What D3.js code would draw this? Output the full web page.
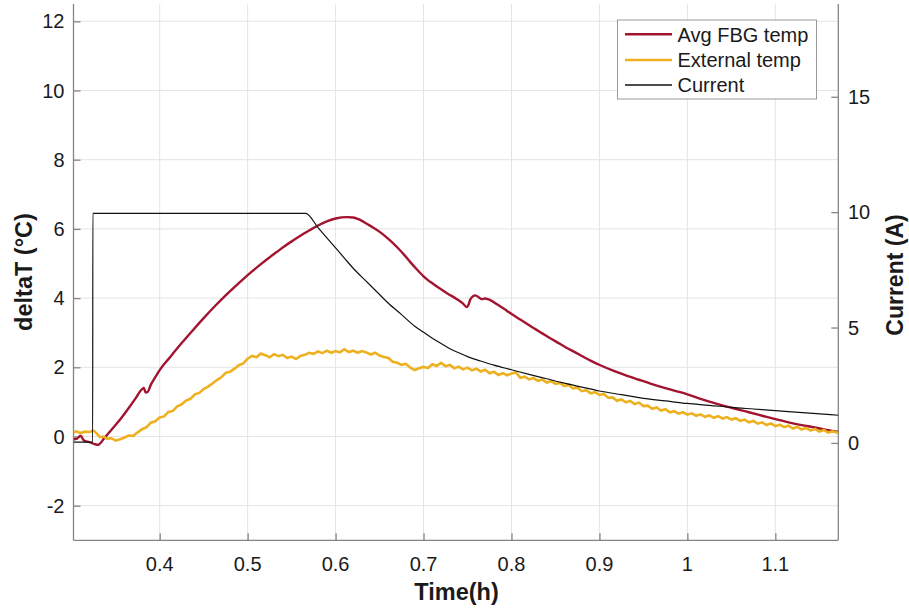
<!DOCTYPE html>
<html>
<head>
<meta charset="utf-8">
<script src="https://cdn.jsdelivr.net/npm/d3@7/dist/d3.min.js"></script>
<style>
  html, body { margin: 0; padding: 0; background: #fff; }
  svg { display: block; }
  text { font-family: "Liberation Sans", Arial, Helvetica, sans-serif; fill: #1a1a1a; }
</style>
</head>
<body>
<svg id="chart" width="909" height="611"></svg>
<script>
// Time axis range (h) and tick values
const timeDomain = [0.302, 1.1716];
const timeTicks = [0.4, 0.5, 0.6, 0.7, 0.8, 0.9, 1.0, 1.1];
const tempDomain = [-3, 12.5];
const tempTicks = [-2, 0, 2, 4, 6, 8, 10, 12];
const currentDomain = [-4.22, 19.02];
const currentTicks = [0, 5, 10, 15];

// Average FBG temperature rise [time h, deltaT °C]
const fbgTemp = [
  [0.302,-0.08],[0.306,-0.06],[0.310,0.02],[0.314,-0.12],[0.320,-0.16],[0.326,-0.22],
  [0.330,-0.24],[0.333,-0.18],[0.336,-0.08],[0.345,0.19],[0.355,0.49],[0.365,0.83],
  [0.372,1.08],[0.380,1.37],[0.382,1.40],[0.384,1.27],[0.386,1.28],[0.390,1.50],
  [0.393,1.63],[0.400,1.92],[0.412,2.30],[0.425,2.70],[0.438,3.08],[0.450,3.42],
  [0.461,3.72],[0.475,4.08],[0.485,4.32],[0.495,4.55],[0.505,4.77],[0.514,4.96],
  [0.524,5.16],[0.533,5.33],[0.542,5.50],[0.552,5.67],[0.560,5.80],[0.567,5.91],
  [0.571,5.97],[0.580,6.10],[0.590,6.22],[0.600,6.30],[0.613,6.34],[0.620,6.33],
  [0.626,6.28],[0.632,6.20],[0.640,6.08],[0.651,5.90],[0.660,5.71],[0.670,5.47],
  [0.678,5.25],[0.685,5.04],[0.692,4.84],[0.700,4.63],[0.705,4.52],[0.710,4.43],
  [0.719,4.27],[0.728,4.12],[0.738,3.97],[0.745,3.84],[0.749,3.74],[0.751,3.80],
  [0.753,3.95],[0.756,4.05],[0.759,4.08],[0.763,4.02],[0.766,3.97],[0.770,3.99],
  [0.774,3.96],[0.785,3.80],[0.795,3.63],[0.802,3.51],[0.810,3.38],[0.821,3.20],
  [0.835,2.98],[0.844,2.84],[0.855,2.68],[0.863,2.56],[0.872,2.44],[0.882,2.30],
  [0.891,2.18],[0.901,2.06],[0.915,1.91],[0.930,1.77],[0.945,1.64],[0.958,1.53],
  [0.972,1.42],[0.986,1.32],[1.000,1.22],[1.015,1.09],[1.030,0.97],[1.050,0.83],
  [1.070,0.70],[1.085,0.60],[1.100,0.50],[1.115,0.41],[1.130,0.33],[1.145,0.26],
  [1.160,0.18],[1.1716,0.13]
];

// External temperature rise [time h, deltaT °C]
const extTemp = [
  [0.302,0.12],[0.305,0.15],[0.310,0.10],[0.315,0.14],[0.320,0.13],[0.325,0.17],
  [0.328,0.10],[0.332,-0.02],[0.336,0.00],[0.340,-0.06],[0.345,-0.05],[0.350,-0.12],
  [0.355,-0.08],[0.360,-0.03],[0.365,0.03],[0.370,0.02],[0.375,0.12],[0.380,0.21],
  [0.385,0.27],[0.390,0.40],[0.395,0.44],[0.400,0.55],[0.405,0.58],[0.410,0.71],
  [0.415,0.74],[0.420,0.87],[0.425,0.93],[0.430,1.04],[0.435,1.09],[0.440,1.22],
  [0.445,1.26],[0.450,1.37],[0.455,1.44],[0.460,1.53],[0.465,1.63],[0.470,1.71],
  [0.475,1.84],[0.480,1.87],[0.485,1.96],[0.490,2.06],[0.495,2.11],[0.500,2.25],
  [0.505,2.33],[0.510,2.29],[0.515,2.40],[0.520,2.35],[0.525,2.29],[0.530,2.38],
  [0.535,2.32],[0.540,2.36],[0.545,2.27],[0.550,2.31],[0.555,2.24],[0.560,2.33],
  [0.565,2.36],[0.570,2.42],[0.575,2.39],[0.580,2.46],[0.585,2.41],[0.590,2.48],
  [0.595,2.42],[0.600,2.47],[0.605,2.43],[0.610,2.52],[0.615,2.44],[0.620,2.48],
  [0.625,2.42],[0.630,2.47],[0.635,2.43],[0.640,2.37],[0.645,2.42],[0.650,2.34],
  [0.655,2.30],[0.660,2.27],[0.665,2.16],[0.670,2.13],[0.675,2.07],[0.680,2.10],
  [0.685,1.99],[0.690,1.92],[0.695,1.97],[0.700,2.01],[0.705,1.98],[0.710,2.09],
  [0.715,2.04],[0.720,2.13],[0.725,2.03],[0.730,2.07],[0.735,1.97],[0.740,2.02],
  [0.745,1.94],[0.750,1.99],[0.755,1.91],[0.760,1.96],[0.765,1.88],[0.770,1.93],
  [0.775,1.83],[0.780,1.87],[0.785,1.78],[0.790,1.83],[0.795,1.77],[0.800,1.82],
  [0.805,1.85],[0.810,1.70],[0.815,1.73],[0.820,1.65],[0.825,1.69],[0.830,1.61],
  [0.835,1.65],[0.840,1.56],[0.845,1.60],[0.850,1.52],[0.855,1.55],[0.860,1.46],
  [0.865,1.49],[0.870,1.39],[0.875,1.41],[0.880,1.31],[0.885,1.34],[0.890,1.25],
  [0.895,1.28],[0.900,1.20],[0.905,1.23],[0.910,1.12],[0.915,1.13],[0.920,1.03],
  [0.925,1.07],[0.930,0.99],[0.935,1.03],[0.940,0.94],[0.945,0.98],[0.950,0.88],
  [0.955,0.89],[0.960,0.80],[0.965,0.84],[0.970,0.75],[0.975,0.79],[0.980,0.70],
  [0.985,0.73],[0.990,0.66],[0.995,0.70],[1.000,0.63],[1.005,0.67],[1.010,0.60],
  [1.015,0.64],[1.020,0.57],[1.025,0.61],[1.030,0.54],[1.035,0.59],[1.040,0.52],
  [1.045,0.56],[1.050,0.49],[1.055,0.53],[1.060,0.45],[1.065,0.49],[1.070,0.41],
  [1.075,0.45],[1.080,0.37],[1.085,0.41],[1.090,0.33],[1.095,0.38],[1.100,0.30],
  [1.105,0.34],[1.110,0.27],[1.115,0.31],[1.120,0.23],[1.125,0.28],[1.130,0.20],
  [1.135,0.25],[1.140,0.17],[1.145,0.22],[1.150,0.14],[1.155,0.19],[1.160,0.11],
  [1.165,0.15],[1.1716,0.10]
];

// Charging current [time h, A]
const current = [
  [0.302,0.03],[0.3238,0.03],[0.3240,9.95],[0.566,9.95],[0.580,9.33],[0.595,8.67],
  [0.610,8.01],[0.620,7.57],[0.635,7.00],[0.650,6.43],[0.660,6.05],[0.675,5.56],
  [0.690,5.06],[0.700,4.80],[0.710,4.54],[0.720,4.31],[0.730,4.08],[0.740,3.91],
  [0.750,3.74],[0.765,3.55],[0.780,3.37],[0.800,3.17],[0.820,2.97],[0.840,2.78],
  [0.860,2.59],[0.880,2.42],[0.900,2.25],[0.925,2.09],[0.950,1.93],[0.975,1.82],
  [1.000,1.71],[1.025,1.63],[1.050,1.54],[1.075,1.47],[1.100,1.40],[1.135,1.30],
  [1.1716,1.20]
];

const legendLabels = ["Avg FBG temp", "External temp", "Current"];
const seriesColors = ["#a2142f", "#edb120", "#111111"];

const svg = d3.select("#chart");
const plot = { left: 73.5, right: 838.3, top: 4, bottom: 540.3 };

const x = d3.scaleLinear().domain(timeDomain).range([plot.left, plot.right]);
const yL = d3.scaleLinear().domain(tempDomain).range([plot.bottom, plot.top]);
const yR = d3.scaleLinear().domain(currentDomain).range([plot.bottom, plot.top]);

const axisGrey = "#858585";
const gridGrey = "#e4e4e4";

// grid
const grid = svg.append("g");
grid.selectAll("line.gx").data(timeTicks).join("line")
  .attr("x1", d => x(d)).attr("x2", d => x(d))
  .attr("y1", plot.top).attr("y2", plot.bottom)
  .attr("stroke", gridGrey).attr("stroke-width", 1);
grid.selectAll("line.gy").data(tempTicks).join("line")
  .attr("x1", plot.left).attr("x2", plot.right)
  .attr("y1", d => yL(d)).attr("y2", d => yL(d))
  .attr("stroke", gridGrey).attr("stroke-width", 1);

// axes (ticks inward)
const tickLen = 7;
const fmt = d => String(+d.toFixed(2));
const xAxis = d3.axisTop(x).tickValues(timeTicks).tickSize(tickLen).tickFormat("");
const gx = svg.append("g").attr("transform", `translate(0,${plot.bottom})`).call(xAxis);
const yAxisL = d3.axisRight(yL).tickValues(tempTicks).tickSize(tickLen).tickFormat("");
const gyl = svg.append("g").attr("transform", `translate(${plot.left},0)`).call(yAxisL);
const yAxisR = d3.axisLeft(yR).tickValues(currentTicks).tickSize(tickLen).tickFormat("");
const gyr = svg.append("g").attr("transform", `translate(${plot.right},0)`).call(yAxisR);
[gx, gyl, gyr].forEach(g => {
  g.select(".domain").attr("stroke", axisGrey).attr("stroke-width", 1.3);
  g.selectAll(".tick line").attr("stroke", axisGrey).attr("stroke-width", 1.3);
});
gx.select(".domain").attr("d", `M${plot.left},0H${plot.right}`);
gyl.select(".domain").attr("d", `M0,${plot.top}V${plot.bottom}`);
gyr.select(".domain").attr("d", `M0,${plot.top}V${plot.bottom}`);

// tick labels
svg.append("g").selectAll("text").data(timeTicks).join("text")
  .attr("x", d => x(d)).attr("y", 570.7)
  .attr("text-anchor", "middle").attr("font-size", 20)
  .text(fmt);
svg.append("g").selectAll("text").data(tempTicks).join("text")
  .attr("x", 64.5).attr("y", d => yL(d) + 7)
  .attr("text-anchor", "end").attr("font-size", 20)
  .text(fmt);
svg.append("g").selectAll("text").data(currentTicks).join("text")
  .attr("x", 848).attr("y", d => yR(d) + 7)
  .attr("text-anchor", "start").attr("font-size", 20)
  .text(fmt);

// axis titles
svg.append("text").attr("x", 456.5).attr("y", 600)
  .attr("text-anchor", "middle").attr("font-size", 23.5).attr("font-weight", "bold")
  .text("Time(h)");
svg.append("text").attr("transform", "translate(31.5,272) rotate(-90)")
  .attr("text-anchor", "middle").attr("font-size", 23.5).attr("font-weight", "bold")
  .text("deltaT (°C)");
svg.append("text").attr("transform", "translate(903,275) rotate(-90)")
  .attr("text-anchor", "middle").attr("font-size", 23).attr("font-weight", "bold")
  .text("Current (A)");

// data lines
svg.append("clipPath").attr("id", "plotClip").append("rect")
  .attr("x", plot.left).attr("y", plot.top)
  .attr("width", plot.right - plot.left).attr("height", plot.bottom - plot.top);
const lines = svg.append("g").attr("clip-path", "url(#plotClip)");

const smoothL = d3.line().x(d => x(d[0])).y(d => yL(d[1])).curve(d3.curveMonotoneX);
const rawL = d3.line().x(d => x(d[0])).y(d => yL(d[1]));
const smoothR = d3.line().x(d => x(d[0])).y(d => yR(d[1])).curve(d3.curveMonotoneX);

lines.append("path").datum(fbgTemp)
  .attr("d", smoothL)
  .attr("fill", "none").attr("stroke", seriesColors[0])
  .attr("stroke-width", 2.4).attr("stroke-linejoin", "round");
lines.append("path").datum(extTemp)
  .attr("d", rawL)
  .attr("fill", "none").attr("stroke", seriesColors[1])
  .attr("stroke-width", 2.6).attr("stroke-linejoin", "miter");
lines.append("path").datum(current)
  .attr("d", smoothR)
  .attr("fill", "none").attr("stroke", seriesColors[2])
  .attr("stroke-width", 1.2).attr("stroke-linejoin", "round");

// legend
const legend = svg.append("g");
legend.append("rect")
  .attr("x", 617.5).attr("y", 20).attr("width", 199).attr("height", 79)
  .attr("fill", "#fff").attr("stroke", "#9a9a9a").attr("stroke-width", 1);
const rowY = [34.3, 60, 85];
legendLabels.forEach((lab, i) => {
  legend.append("line")
    .attr("x1", 625).attr("x2", 672).attr("y1", rowY[i]).attr("y2", rowY[i])
    .attr("stroke", seriesColors[i]).attr("stroke-width", i < 2 ? 2.5 : 1.4);
  legend.append("text")
    .attr("x", 677.5).attr("y", rowY[i] + 7.3)
    .attr("font-size", 20).text(lab);
});
</script>
</body>
</html>
